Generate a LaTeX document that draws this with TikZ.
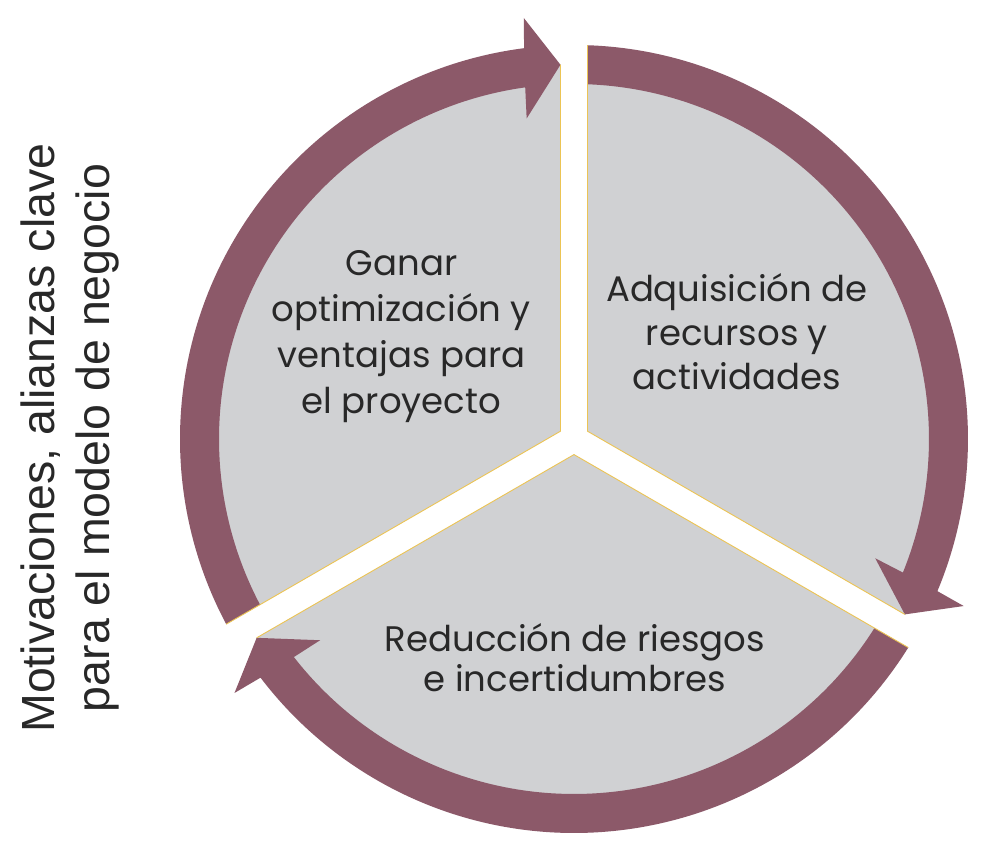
\documentclass[tikz,border=0pt]{standalone}
\usepackage{fontspec}
\setmainfont{Poppins}
\newfontfamily\vertfont{Liberation Sans}
\definecolor{maroon}{RGB}{140,89,105}
\definecolor{sectorgray}{RGB}{208,209,211}
\definecolor{goldline}{RGB}{236,196,84}
\definecolor{textdark}{RGB}{40,40,40}
\begin{document}
\begin{tikzpicture}[x=1pt,y=1pt,
  seclabel/.style={anchor=base, inner sep=0pt, text=textdark, font=\fontsize{35.5}{40}\selectfont},
  vlabel/.style={anchor=base, inner sep=0pt, rotate=90, text=textdark, font=\vertfont\fontsize{46.5}{50}\selectfont},
  sectorfill/.style={fill=sectorgray},
  sectoredge/.style={draw=goldline, line width=0.9pt},
  ringarrow/.style={fill=maroon}]
\fill[white] (-574,-411) rectangle (415,439);
\useasboundingbox (-574,-411) rectangle (415,439);
% sectors
\foreach \a/\b in {210/90, 90/-30, 330/210} {
  \path[sectorfill] ({(\a+\b)/2}:15.59pt) -- ({\a-2.063}:375pt)
    arc[start angle={\a-2.063}, end angle={\b+2.063}, radius=375pt] -- cycle;
}
% arrows
\foreach \a/\b in {210/90, 90/-30, 330/210} {
  \path[ringarrow] ({\a-1.964}:394pt)
    arc[start angle={\a-1.964}, end angle={\b+7.28}, radius=394pt]
    -- ({\b+6.8}:424pt) -- ({\b+2.07}:374.5pt) -- ({\b+8.4}:324pt)
    -- ({\b+7.9}:355pt)
    arc[start angle={\b+7.9}, end angle={\a-2.18}, radius=355pt] -- cycle;
}
% gold edges of the gaps
\foreach \a/\b in {210/90, 90/-30, 330/210} {
  \path[sectoredge] ({\a-1.964}:394pt) -- ({(\a+\b)/2}:15.59pt) -- ({\b+2.07}:374.5pt);
}
% texts
\node[seclabel] (g1) at (-172.5,163) {Ganar};
\node[seclabel] (g2) at (-172.5,117) {optimización y};
\node[seclabel] (g3) at (-172.5,71) {ventajas para};
\node[seclabel] (g4) at (-172.5,25) {el proyecto};
\node[seclabel] (r1) at (163,137) {Adquisición de};
\node[seclabel] (r2) at (163,93) {recursos y};
\node[seclabel] (r3) at (163,49) {actividades};
\node[seclabel] (b1) at (1,-213) {Reducción de riesgos};
\node[seclabel] (b2) at (1,-253) {e incertidumbres};
\node[vlabel] (v1) at (-519,1) {Motivaciones, alianzas clave};
\node[vlabel] (v2) at (-464,1) {para el modelo de negocio};
\end{tikzpicture}
\end{document}
